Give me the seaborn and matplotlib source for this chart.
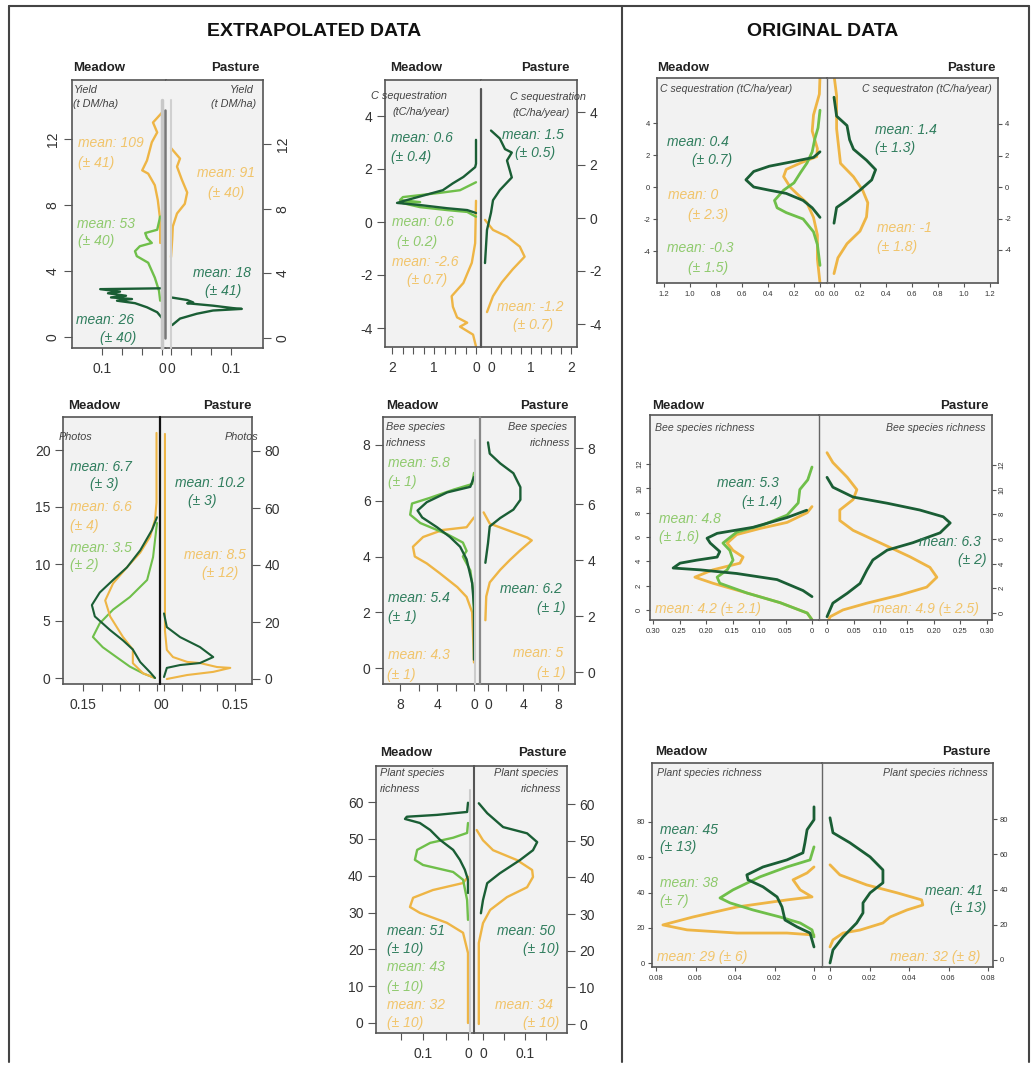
import matplotlib
matplotlib.use('Agg')
import matplotlib.pyplot as plt
import seaborn as sns
from matplotlib.lines import Line2D

# ---------------- data ----------------
# Yield, extrapolated
yld_m_or_y = [13.6, 13.0, 12.4, 11.8, 10.7, 10.1, 9.9, 9.2, 8.3, 7.1, 5.7]
yld_m_or_d = [0, 0.015, 0.008, 0.017, 0.025, 0.033, 0.023, 0.012, 0.007, 0.003, 0.003]
yld_m_lg_y = [7.3, 6.5, 6.3, 6.0, 5.7, 5.5, 5.2, 4.9, 4.5, 3.6, 2.8, 2.2]
yld_m_lg_d = [0.003, 0.008, 0.028, 0.025, 0.017, 0.037, 0.045, 0.042, 0.023, 0.012, 0.005, 0.003]
yld_m_dg_y = [2.95, 2.9, 2.75, 2.65, 2.5, 2.4, 2.3, 2.2, 2.05, 1.8, 1.5, 1.15]
yld_m_dg_d = [0.003, 0.103, 0.07, 0.09, 0.06, 0.085, 0.05, 0.075, 0.045, 0.025, 0.008, 0]
yld_p_or_y = [11.75, 11.1, 10.6, 9.8, 9.0, 8.3, 7.7, 6.9, 6.1, 5.0]
yld_p_or_d = [0, 0.015, 0.01, 0.018, 0.027, 0.023, 0.01, 0.003, 0.002, 0]
yld_p_dg_y = [2.5, 2.35, 2.2, 2.15, 2.0, 1.85, 1.8, 1.7, 1.5, 1.2, 0.8]
yld_p_dg_d = [0.002, 0.027, 0.037, 0.027, 0.07, 0.103, 0.118, 0.07, 0.043, 0.015, 0.002]
yld_means = ['109', '53', '26', '91', '18']
yld_sds = ['41', '40', '40', '40', '41']

# C sequestration, extrapolated
cse_m_dg_y = [3.1, 2.2, 2.07, 1.7, 1.46, 1.2, 1.1, 0.83, 0.72, 0.64, 0.52, 0.45, 0.34]
cse_m_dg_d = [0, 0, 0.02, 0.3, 0.55, 0.79, 1.02, 1.64, 1.88, 1.33, 0.69, 0.21, 0]
cse_m_lg_y = [1.5, 1.2, 1.1, 0.94, 0.83, 0.75, 0.71, 0.56, 0.45, 0.38, 0.2]
cse_m_lg_d = [0, 0.38, 0.86, 1.74, 1.81, 1.33, 1.74, 1.33, 0.69, 0.21, 0]
cse_m_or_y = [0.8, -0.04, -0.8, -1.54, -2.3, -2.8, -3.2, -3.6, -3.8, -3.95, -4.25, -4.7]
cse_m_or_d = [0, 0.01, 0.02, 0.1, 0.3, 0.58, 0.55, 0.45, 0.21, 0.38, 0.07, 0]
cse_p_dg_y = [3.3, 3.0, 2.6, 2.47, 2.17, 1.8, 1.53, 1.05, 0.67, 0.2, -0.45, -1.7]
cse_p_dg_d = [0, 0.22, 0.35, 0.52, 0.4, 0.47, 0.52, 0.22, 0.05, 0.0, -0.1, -0.15]
cse_p_or_y = [-0.07, -0.45, -0.7, -1.08, -1.46, -1.94, -2.43, -2.95, -3.55]
cse_p_or_d = [-0.15, 0.05, 0.4, 0.72, 0.84, 0.54, 0.27, 0.05, -0.1]
cse_means = ['0.6', '0.6', '-2.6', '1.5', '-1.2']
cse_sds = ['0.4', '0.2', '0.7', '0.5', '0.7']

# C sequestration, original
cso_m_dg_y = [2.2, 1.85, 1.6, 1.3, 0.97, 0.45, 0, -0.2, -0.4, -0.84, -1.3, -1.7, -1.9]
cso_m_dg_d = [0, 0.05, 0.2, 0.39, 0.51, 0.57, 0.51, 0.39, 0.26, 0.13, 0.06, 0.02, 0]
cso_m_lg_y = [4.8, 3.7, 3.0, 2.2, 1.5, 0.9, 0.26, -0.2, -0.84, -1.3, -1.6, -2.0, -2.8, -3.6, -4.9]
cso_m_lg_d = [0, 0.015, 0.04, 0.06, 0.1, 0.15, 0.2, 0.28, 0.35, 0.33, 0.26, 0.13, 0.05, 0.02, 0]
cso_m_or_y = [6.9, 5.8, 4.5, 3.5, 2.4, 1.9, 1.5, 1.1, 0.65, 0, -0.4, -1.0, -1.9, -3.0, -4.5, -6.0]
cso_m_or_d = [0, 0.005, 0.05, 0.06, 0.02, 0.025, 0.15, 0.26, 0.28, 0.23, 0.18, 0.1, 0.05, 0.02, 0.02, 0]
cso_p_dg_y = [5.7, 4.5, 3.9, 3.0, 2.4, 1.7, 1.1, 0.45, -0.2, -0.84, -1.3, -2.3]
cso_p_dg_d = [0, 0.02, 0.1, 0.12, 0.15, 0.25, 0.32, 0.29, 0.2, 0.1, 0.02, 0]
cso_p_or_y = [7.1, 5.8, 3.7, 1.5, 0.65, -0.2, -1.0, -1.9, -2.8, -3.6, -4.5, -5.5]
cso_p_or_d = [0, 0.02, 0.02, 0.05, 0.15, 0.22, 0.26, 0.25, 0.2, 0.1, 0.03, 0]
cso_means = ['0.4', '0', '-0.3', '1.4', '-1']
cso_sds = ['0.7', '2.3', '1.5', '1.3', '1.8']

# Photos, extrapolated
pho_m_dg_y = [14.1, 13.0, 11.2, 9.7, 8.6, 7.5, 6.4, 5.4, 4.2, 3.3, 2.5, 1.4, 0.5, 0]
pho_m_dg_d = [0, 0.01, 0.034, 0.061, 0.089, 0.116, 0.132, 0.126, 0.095, 0.069, 0.049, 0.034, 0.014, 0.004]
pho_m_or_y = [21.5, 15.4, 13.9, 12.4, 11.0, 9.7, 8.3, 6.8, 5.4, 3.6, 2.5, 1.3, 0.4, 0]
pho_m_or_d = [0.001, 0.001, 0.004, 0.014, 0.034, 0.061, 0.089, 0.105, 0.095, 0.069, 0.049, 0.049, 0.028, 0.004]
pho_m_lg_y = [13.6, 10.6, 8.6, 7.1, 6.0, 4.8, 3.6, 2.7, 1.8, 1.0, 0.4, 0]
pho_m_lg_d = [0, 0.008, 0.02, 0.055, 0.089, 0.116, 0.13, 0.11, 0.081, 0.055, 0.028, 0.004]
pho_p_dg_y = [23, 18.2, 14.7, 11.2, 7.7, 5.6, 4.9, 3.9, 0.7]
pho_p_dg_d = [0, 0.006, 0.034, 0.076, 0.104, 0.076, 0.034, 0.006, 0]
pho_p_or_y = [86, 17, 10.2, 7.7, 6.0, 5.6, 4.2, 3.9, 2.5, 1.4, 0]
pho_p_or_d = [0.002, 0.002, 0.006, 0.019, 0.049, 0.076, 0.112, 0.14, 0.104, 0.049, 0.006]
pho_means = ['6.7', '6.6', '3.5', '10.2', '8.5']
pho_sds = ['3', '4', '2', '3', '12']

# Bee species richness, extrapolated
bee_m_lg_y = [7.0, 6.6, 6.4, 6.1, 5.9, 5.5, 5.2, 4.8, 4.5, 4.2, 4.0, 3.5, 2.8, 2.0]
bee_m_lg_d = [0, 0.2, 2.2, 4.8, 6.7, 6.9, 5.8, 2.9, 1.2, 0.8, 1.2, 0.4, 0.1, 0]
bee_m_dg_y = [6.85, 6.5, 6.3, 5.95, 5.65, 5.4, 5.05, 4.7, 4.35, 3.9, 3.05, 2.2, 0.3]
bee_m_dg_d = [0, 0.4, 2.9, 5.1, 6.1, 5.6, 4.0, 2.6, 1.5, 0.8, 0.2, 0, 0]
bee_m_or_y = [5.4, 5.05, 4.95, 4.7, 4.35, 4.0, 3.75, 3.4, 2.9, 2.55, 2.0, 0.75, 0.2]
bee_m_or_d = [0, 0.8, 3.4, 5.5, 6.6, 6.4, 5.1, 3.7, 1.8, 0.8, 0.2, 0.05, 0]
bee_p_dg_y = [8.2, 7.8, 7.45, 7.1, 6.6, 6.15, 5.8, 5.5, 5.2, 4.6, 3.9]
bee_p_dg_d = [0, 0.2, 1.4, 2.9, 3.7, 3.7, 2.9, 1.4, 0.2, 0, -0.3]
bee_p_or_y = [5.7, 5.3, 5.07, 4.8, 4.7, 4.35, 4.0, 3.65, 3.2, 2.7, 1.85]
bee_p_or_d = [-0.5, 0.2, 2.2, 4.5, 5.0, 3.7, 2.5, 1.4, 0.2, -0.2, -0.3]
bee_means = ['5.8', '5.4', '4.3', '6.2', '5']
bee_sds = ['1', '1', '1', '1', '1']

# Bee species richness, original
beo_m_lg_y = [11.75, 10.7, 9.9, 8.8, 7.8, 7.0, 6.4, 5.5, 4.9, 4.1, 3.3, 2.7, 2.2, 1.4, 0.6, -0.25, -0.8]
beo_m_lg_d = [0, 0.008, 0.023, 0.026, 0.047, 0.092, 0.142, 0.168, 0.155, 0.149, 0.16, 0.179, 0.174, 0.123, 0.06, 0.009, 0]
beo_m_dg_y = [8.2, 7.6, 6.8, 6.3, 5.9, 5.5, 4.8, 4.35, 4.1, 3.85, 3.45, 3.3, 3.0, 2.5, 1.6, 1.1]
beo_m_dg_d = [0.01, 0.047, 0.111, 0.179, 0.198, 0.192, 0.174, 0.179, 0.217, 0.249, 0.262, 0.211, 0.142, 0.066, 0.017, 0]
beo_m_or_y = [8.5, 8.0, 7.2, 6.7, 6.2, 5.5, 4.9, 4.35, 3.85, 3.3, 2.7, 2.2, 1.4, 0.6, -0.25, -0.8]
beo_m_or_d = [0, 0.009, 0.047, 0.098, 0.142, 0.16, 0.149, 0.13, 0.136, 0.187, 0.221, 0.187, 0.123, 0.06, 0.009, 0]
beo_p_dg_y = [11.0, 10.2, 9.4, 8.9, 8.35, 7.8, 7.3, 6.5, 5.7, 5.1, 4.3, 3.5, 2.4, 1.6, 0.8, -0.3]
beo_p_dg_d = [0, 0.011, 0.049, 0.113, 0.174, 0.218, 0.231, 0.212, 0.161, 0.113, 0.086, 0.075, 0.062, 0.038, 0.011, 0]
beo_p_or_y = [13.0, 12.2, 11.0, 10.0, 9.2, 8.35, 7.5, 6.7, 5.7, 4.55, 3.7, 2.9, 2.1, 1.46, 0.8, 0.25, -0.3, -0.8]
beo_p_or_d = [0, 0.011, 0.038, 0.056, 0.049, 0.024, 0.024, 0.049, 0.099, 0.156, 0.193, 0.206, 0.187, 0.137, 0.075, 0.03, 0.006, 0]
beo_means = ['5.3', '4.8', '4.2', '6.3', '4.9']
beo_sds = ['1.4', '1.6', '2.1', '2', '2.5']

# Plant species richness, extrapolated
ple_m_dg_y = [59.8, 57.3, 56.5, 56.0, 55.4, 54.3, 52.4, 49.7, 47.0, 44.3, 41.6, 38.9, 35.3]
ple_m_dg_d = [0, 0.002, 0.069, 0.136, 0.14, 0.107, 0.084, 0.062, 0.033, 0.018, 0.007, 0, 0]
ple_m_lg_y = [54.3, 51.6, 50.3, 48.9, 47.0, 44.3, 42.9, 41.0, 38.9, 33.4, 28.0]
ple_m_lg_d = [0, 0.002, 0.033, 0.084, 0.113, 0.118, 0.1, 0.033, 0.011, 0.002, 0]
ple_m_or_y = [39.7, 38.0, 36.1, 34.0, 31.5, 29.9, 27.2, 24.5, 19.0, 11.7, 0]
ple_m_or_d = [0, 0.011, 0.078, 0.122, 0.129, 0.107, 0.047, 0.011, 0, 0, 0]
ple_p_dg_y = [60.2, 57.5, 53.7, 52.0, 49.6, 47.4, 44.7, 41.1, 38.4, 33.8, 30.2]
ple_p_dg_d = [-0.01, 0.01, 0.048, 0.105, 0.129, 0.119, 0.088, 0.04, 0.01, 0, -0.005]
ple_p_or_y = [52.9, 50.1, 47.4, 44.7, 42.0, 40.1, 37.3, 34.6, 31.1, 27.5, 22.1, 0]
ple_p_or_d = [-0.015, 0, 0.024, 0.081, 0.117, 0.119, 0.105, 0.057, 0.017, 0, -0.01, -0.01]
ple_means = ['51', '43', '32', '50', '34']
ple_sds = ['10', '10', '10', '10', '10']

# Plant species richness, original
plo_m_dg_y = [88.6, 81.3, 75.6, 68.2, 62.5, 58.5, 54.5, 50.0, 47.2, 43.2, 37.5, 31.8, 24.4, 20.5, 17.0, 9.1]
plo_m_dg_d = [0, 0, 0.0035, 0.0046, 0.0056, 0.0137, 0.0258, 0.034, 0.0334, 0.0258, 0.0187, 0.0162, 0.0147, 0.0086, 0.002, 0]
plo_m_lg_y = [65.9, 58.5, 54.5, 48.9, 41.5, 36.9, 34.1, 30.1, 26.1, 22.7, 18.8, 14.8]
plo_m_lg_d = [0, 0.002, 0.0137, 0.0273, 0.041, 0.0476, 0.0425, 0.0309, 0.0172, 0.007, 0.001, 0]
plo_m_or_y = [54.5, 51.1, 47.2, 41.5, 37.5, 35.8, 31.8, 26.1, 21.6, 18.8, 17.0, 17.0, 15.9]
plo_m_or_d = [0, 0.0035, 0.0106, 0.007, 0.001, 0.0137, 0.039, 0.0613, 0.0765, 0.0643, 0.039, 0.0137, 0]
plo_p_dg_y = [80.7, 72.2, 66.5, 58.5, 51.1, 43.8, 38.1, 32.4, 26.7, 21.0, 13.1, 5.7, -1.7]
plo_p_dg_d = [0, 0.0015, 0.0101, 0.0203, 0.0268, 0.0268, 0.0203, 0.0167, 0.0167, 0.0135, 0.0066, 0.0015, 0]
plo_p_or_y = [54.0, 48.3, 42.6, 38.1, 34.1, 31.2, 28.4, 24.4, 21.0, 17.0, 15.3, 11.4, 7.4]
plo_p_or_d = [0, 0.005, 0.0186, 0.034, 0.0464, 0.047, 0.039, 0.0304, 0.0268, 0.0152, 0.0066, 0.0015, 0]
plo_means = ['45', '38', '29', '41', '32']
plo_sds = ['13', '7', '6', '13', '8']

# ---------------- style ----------------
sns.set_style('white')
plt.rcParams['font.family'] = ['Liberation Sans', 'DejaVu Sans']

W, H = 1032, 1068
DG, LG, OR = '#1a5e35', '#6fbf4a', '#eeb545'
DG_T, LG_T, OR_T = '#2f7d5d', '#8fca6d', '#f1c46a'
BG = '#f2f2f2'
FRAME = '#555555'
TXT = '#333333'

fig = plt.figure(figsize=(W / 100, H / 100), dpi=100)
fig.patch.set_facecolor('white')


def fx(px):
    return px / W


def fy(py):
    return 1 - py / H


def lin(p0, v0, p1, v1, p):
    return v0 + (v1 - v0) * (p - p0) / (p1 - p0)


def vline(x, y0, y1, color, lw):
    fig.add_artist(Line2D([fx(x), fx(x)], [fy(y0), fy(y1)], color=color, lw=lw))


def hline(y, x0, x1, color, lw):
    fig.add_artist(Line2D([fx(x0), fx(x1)], [fy(y), fy(y)], color=color, lw=lw))


def txt(px, py, s, color, size=10, style='italic', ha='left', weight='normal'):
    fig.text(fx(px), fy(py), s, color=color, fontsize=size, style=style,
             ha=ha, va='center', weight=weight)


def panel(L, C, R, T, B, xl, xr, yl, yr, xt, xlab, ytl, ytr, small=False, rot=0):
    axes = []
    fs = 5.5 if small else 10
    for side, x0, x1, xc, yc, yt in (('L', L, C, xl, yl, ytl), ('R', C, R, xr, yr, ytr)):
        ax = fig.add_axes([fx(x0), fy(B), fx(x1) - fx(x0), fy(T) - fy(B)])
        ax.set_facecolor(BG)
        ax.set_xlim(lin(xc[0], 0, xc[1], xc[2], x0), lin(xc[0], 0, xc[1], xc[2], x1))
        ax.set_ylim(lin(yc[0], yc[1], yc[2], yc[3], B), lin(yc[0], yc[1], yc[2], yc[3], T))
        for s in ax.spines.values():
            s.set_color(FRAME)
            s.set_linewidth(1.2)
        ax.spines['right' if side == 'L' else 'left'].set_visible(False)
        ax.set_xticks(xt, xlab)
        ax.set_yticks(yt, [f'{v:g}' for v in yt])
        if side == 'R':
            ax.yaxis.tick_right()
        ax.tick_params(axis='x', bottom=True, top=False, direction='out',
                       length=3 if small else 5, width=0.8, color=FRAME,
                       labelsize=fs, labelcolor=TXT, pad=3 if small else 5)
        ax.tick_params(axis='y', left=(side == 'L'), right=(side == 'R'),
                       labelleft=(side == 'L'), labelright=(side == 'R'),
                       direction='out', length=3 if small else 6, width=0.8,
                       color=FRAME, labelsize=fs, labelcolor=TXT,
                       labelrotation=rot, pad=2 if small else 3)
        if rot:
            for lab in ax.get_yticklabels():
                lab.set_va('center')
        ax.set_xlabel('')
        ax.set_ylabel('')
        axes.append(ax)
    return axes


def curve(ax, d, y, color, lw=1.7):
    sns.lineplot(x=d, y=y, sort=False, estimator=None, ax=ax, color=color,
                 linewidth=lw, solid_joinstyle='round', legend=False)


def heads(xm, xp, y):
    txt(xm, y, 'Meadow', '#222222', size=9.5, style='normal', weight='bold')
    txt(xp, y, 'Pasture', '#222222', size=9.5, style='normal', weight='bold', ha='right')


def means(mlist, slist, pos, colors):
    for m, s, p, c in zip(mlist, slist, pos, colors):
        if len(p) == 2:
            txt(p[0], p[1], f'mean: {m} (\u00b1 {s})', c)
        else:
            txt(p[0], p[1], f'mean: {m}', c)
            txt(p[2], p[3], f'(\u00b1 {s})', c)


# ---------------- outer frame and titles ----------------
vline(9, 6, 1062, '#444444', 1.5)
vline(622, 6, 1062, '#444444', 1.5)
vline(1029, 6, 1062, '#444444', 1.5)
hline(6, 9, 1029, '#444444', 1.5)
txt(314, 31, 'EXTRAPOLATED DATA', '#111111', size=14, style='normal', ha='center', weight='bold')
txt(823, 31, 'ORIGINAL DATA', '#111111', size=14, style='normal', ha='center', weight='bold')

# ---------------- Yield (extrapolated) ----------------
aL, aR = panel(72, 166, 263, 80, 348, (162, 102, 0.1), (171, 231, 0.1),
               (337, 0, 139, 12), (338, 0, 144, 12),
               [0, 0.1 / 3, 0.2 / 3, 0.1], ['0', '', '', '0.1'], [0, 4, 8, 12], [0, 4, 8, 12], rot=90)
curve(aL, yld_m_or_d, yld_m_or_y, OR)
curve(aL, yld_m_lg_d, yld_m_lg_y, LG)
curve(aL, yld_m_dg_d, yld_m_dg_y, DG)
curve(aR, yld_p_or_d, yld_p_or_y, OR)
curve(aR, yld_p_dg_d, yld_p_dg_y, DG)
vline(162, 100, 348, '#c8c8c8', 2.5)
vline(171, 100, 348, '#d0d0d0', 1.5)
vline(165, 110, 338, '#777777', 1.8)
heads(73, 260, 68)
txt(74, 90, 'Yield', '#444444', size=7.8)
txt(73, 104, '(t DM/ha)', '#444444', size=7.8)
txt(254, 90, 'Yield', '#444444', size=7.8, ha='right')
txt(256, 104, '(t DM/ha)', '#444444', size=7.8, ha='right')
means(yld_means, yld_sds,
      [(78, 143, 78, 163), (77, 224, 78, 241), (76, 320, 100, 338), (197, 173, 208, 193), (193, 273, 205, 291)],
      [OR_T, LG_T, DG_T, OR_T, DG_T])

# ---------------- C sequestration (extrapolated) ----------------
aL, aR = panel(385, 481, 577, 80, 347, (476, 434, 1), (491, 531, 1),
               (222, 0, 116, 4), (218, 0, 112, 4),
               [0, 0.25, 0.5, 0.75, 1, 1.25, 1.5, 1.75, 2], ['0', '', '', '', '1', '', '', '', '2'],
               [-4, -2, 0, 2, 4], [-4, -2, 0, 2, 4])
curve(aL, cse_m_or_d, cse_m_or_y, OR)
curve(aL, cse_m_lg_d, cse_m_lg_y, LG)
curve(aL, cse_m_dg_d, cse_m_dg_y, DG)
curve(aR, cse_p_or_d, cse_p_or_y, OR)
curve(aR, cse_p_dg_d, cse_p_dg_y, DG)
vline(481, 89, 347, '#555555', 1.6)
heads(390, 570, 68)
txt(409, 96, 'C sequestration', '#444444', size=7.8, ha='center')
txt(421, 112, '(tC/ha/year)', '#444444', size=7.8, ha='center')
txt(548, 97, 'C sequestration', '#444444', size=7.8, ha='center')
txt(541, 113, '(tC/ha/year)', '#444444', size=7.8, ha='center')
means(cse_means, cse_sds,
      [(391, 138, 391, 157), (392, 222, 397, 242), (392, 262, 407, 280), (502, 135, 515, 153), (497, 307, 513, 325)],
      [DG_T, LG_T, OR_T, DG_T, OR_T])

# ---------------- C sequestration (original) ----------------
ticks_c = [0, 0.2, 0.4, 0.6, 0.8, 1.0, 1.2]
aL, aR = panel(657, 827, 998, 78, 283, (820, 794, 0.2), (834, 990, 1.2),
               (187, 0, 123, 4), (187, 0, 124, 4),
               ticks_c, [f'{v:.1f}' for v in ticks_c], [-4, -2, 0, 2, 4], [-4, -2, 0, 2, 4], small=True)
curve(aL, cso_m_or_d, cso_m_or_y, OR, 2)
curve(aL, cso_m_lg_d, cso_m_lg_y, LG, 2)
curve(aL, cso_m_dg_d, cso_m_dg_y, DG, 2)
curve(aR, cso_p_or_d, cso_p_or_y, OR, 2)
curve(aR, cso_p_dg_d, cso_p_dg_y, DG, 2)
vline(827, 78, 283, '#666666', 1.0)
heads(657, 996, 68)
txt(660, 89, 'C sequestration (tC/ha/year)', '#444444', size=7.6)
txt(992, 89, 'C sequestraton (tC/ha/year)', '#444444', size=7.6, ha='right')
means(cso_means, cso_sds,
      [(667, 142, 692, 160), (668, 195, 688, 215), (667, 248, 688, 268), (875, 130, 875, 148), (877, 228, 877, 247)],
      [DG_T, OR_T, LG_T, DG_T, OR_T])

# ---------------- Photos (extrapolated) ----------------
ticks_p = [0, 0.0375, 0.075, 0.1125, 0.15]
aL, aR = panel(63, 160, 252, 417, 684, (157, 83, 0.15), (164, 235, 0.15),
               (678, 0, 450, 20), (679, 0, 451, 80),
               ticks_p, ['0', '', '', '', '0.15'], [0, 5, 10, 15, 20], [0, 20, 40, 60, 80])
curve(aL, pho_m_lg_d, pho_m_lg_y, LG, 1.5)
curve(aL, pho_m_or_d, pho_m_or_y, OR, 1.5)
curve(aL, pho_m_dg_d, pho_m_dg_y, DG, 1.5)
curve(aR, pho_p_or_d, pho_p_or_y, OR, 1.5)
curve(aR, pho_p_dg_d, pho_p_dg_y, DG, 1.5)
vline(160, 417, 684, '#111111', 1.6)
heads(68, 252, 406)
txt(59, 437, 'Photos', '#444444', size=7.8)
txt(258, 437, 'Photos', '#444444', size=7.8, ha='right')
means(pho_means, pho_sds,
      [(70, 467, 90, 484), (70, 507, 70, 526), (70, 548, 70, 565), (175, 483, 188, 501), (184, 555, 202, 573)],
      [DG_T, OR_T, LG_T, DG_T, OR_T])

# ---------------- Bee species richness (extrapolated) ----------------
aL, aR = panel(383, 480, 575, 417, 684, (474, 400, 8), (488, 558, 8),
               (668, 0, 445, 8), (672, 0, 448, 8),
               [0, 2, 4, 6, 8], ['0', '', '4', '', '8'], [0, 2, 4, 6, 8], [0, 2, 4, 6, 8])
curve(aL, bee_m_or_d, bee_m_or_y, OR)
curve(aL, bee_m_lg_d, bee_m_lg_y, LG)
curve(aL, bee_m_dg_d, bee_m_dg_y, DG)
curve(aR, bee_p_or_d, bee_p_or_y, OR)
curve(aR, bee_p_dg_d, bee_p_dg_y, DG)
vline(475, 440, 684, '#cccccc', 1.5)
vline(480, 417, 684, '#888888', 1.6)
heads(386, 569, 406)
txt(386, 427, 'Bee species', '#444444', size=7.8)
txt(386, 443, 'richness', '#444444', size=7.8)
txt(567, 427, 'Bee species', '#444444', size=7.8, ha='right')
txt(570, 443, 'richness', '#444444', size=7.8, ha='right')
means(bee_means, bee_sds,
      [(388, 463, 388, 482), (388, 598, 388, 617), (388, 655, 387, 675), (500, 589, 537, 608), (513, 653, 537, 673)],
      [LG_T, DG_T, OR_T, DG_T, OR_T])

# ---------------- Bee species richness (original) ----------------
ticks_b = [0, 0.05, 0.1, 0.15, 0.2, 0.25, 0.3]
aL, aR = panel(650, 819, 992, 415, 620, (812, 653, 0.3), (827, 987, 0.3),
               (610, 0, 464, 12), (613, 0, 465, 12),
               ticks_b, ['0'] + [f'{v:.2f}' for v in ticks_b[1:]],
               [0, 2, 4, 6, 8, 10, 12], [0, 2, 4, 6, 8, 10, 12], small=True, rot=90)
curve(aL, beo_m_or_d, beo_m_or_y, OR, 2)
curve(aL, beo_m_lg_d, beo_m_lg_y, LG, 2)
curve(aL, beo_m_dg_d, beo_m_dg_y, DG, 2)
curve(aR, beo_p_or_d, beo_p_or_y, OR, 2)
curve(aR, beo_p_dg_d, beo_p_dg_y, DG, 2)
vline(819, 415, 620, '#666666', 1.0)
heads(652, 989, 406)
txt(655, 428, 'Bee species richness', '#444444', size=7.6)
txt(985, 428, 'Bee species richness', '#444444', size=7.6, ha='right')
means(beo_means, beo_sds,
      [(717, 483, 742, 502), (659, 519, 659, 537), (655, 609), (919, 542, 958, 560), (873, 609)],
      [DG_T, LG_T, OR_T, DG_T, OR_T])

# ---------------- Plant species richness (extrapolated) ----------------
aL, aR = panel(376, 474, 567, 766, 1033, (468, 423, 0.1), (483, 525, 0.1),
               (1023, 0, 802, 60), (1024, 0, 804, 60),
               [0, 0.05, 0.1, 0.15], ['0', '', '0.1', ''],
               [0, 10, 20, 30, 40, 50, 60], [0, 10, 20, 30, 40, 50, 60])
curve(aL, ple_m_or_d, ple_m_or_y, OR)
curve(aL, ple_m_lg_d, ple_m_lg_y, LG)
curve(aL, ple_m_dg_d, ple_m_dg_y, DG)
curve(aR, ple_p_or_d, ple_p_or_y, OR)
curve(aR, ple_p_dg_d, ple_p_dg_y, DG)
vline(470, 790, 1033, '#cccccc', 1.5)
vline(474, 766, 1033, '#555555', 1.5)
heads(380, 567, 753)
txt(380, 773, 'Plant species', '#444444', size=7.8)
txt(380, 789, 'richness', '#444444', size=7.8)
txt(558, 773, 'Plant species', '#444444', size=7.8, ha='right')
txt(561, 789, 'richness', '#444444', size=7.8, ha='right')
means(ple_means, ple_sds,
      [(387, 931, 387, 949), (387, 967, 387, 987), (387, 1005, 387, 1023), (497, 931, 523, 949), (495, 1005, 523, 1023)],
      [DG_T, LG_T, OR_T, DG_T, OR_T])

# ---------------- Plant species richness (original) ----------------
ticks_q = [0, 0.02, 0.04, 0.06, 0.08]
aL, aR = panel(652, 822, 993, 763, 967, (814, 656, 0.08), (830, 988, 0.08),
               (963, 0, 822, 80), (960, 0, 819, 80),
               ticks_q, ['0'] + [f'{v:.2f}' for v in ticks_q[1:]],
               [0, 20, 40, 60, 80], [0, 20, 40, 60, 80], small=True)
curve(aL, plo_m_or_d, plo_m_or_y, OR, 2)
curve(aL, plo_m_lg_d, plo_m_lg_y, LG, 2)
curve(aL, plo_m_dg_d, plo_m_dg_y, DG, 2)
curve(aR, plo_p_or_d, plo_p_or_y, OR, 2)
curve(aR, plo_p_dg_d, plo_p_dg_y, DG, 2)
vline(822, 763, 967, '#666666', 1.0)
heads(655, 991, 752)
txt(657, 773, 'Plant species richness', '#444444', size=7.6)
txt(988, 773, 'Plant species richness', '#444444', size=7.6, ha='right')
means(plo_means, plo_sds,
      [(660, 830, 660, 847), (660, 883, 660, 901), (657, 957), (925, 891, 950, 908), (890, 957)],
      [DG_T, LG_T, OR_T, DG_T, OR_T])

fig.savefig('out.png', dpi=100, facecolor='white')
